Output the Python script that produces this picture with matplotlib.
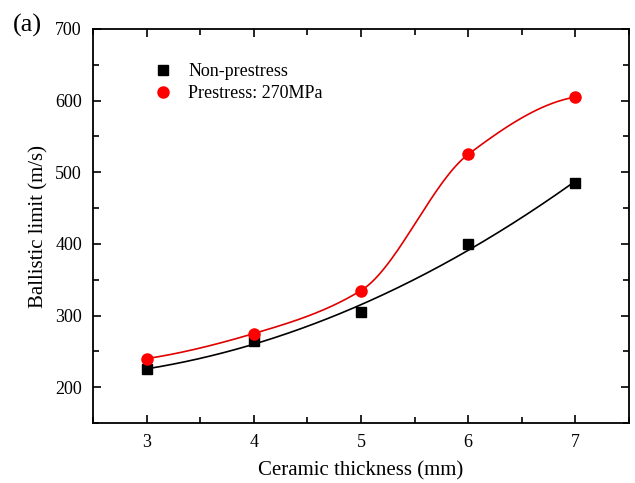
import numpy as np
import matplotlib
matplotlib.use("Agg")
import matplotlib.pyplot as plt
from matplotlib.ticker import MultipleLocator

thickness = [3, 4, 5, 6, 7]
non_prestress = [225, 265, 305, 400, 485]
prestress = [240, 275, 335, 525, 605]

plt.rcParams['font.family'] = ['Liberation Serif', 'DejaVu Serif']


def pchip(x, y, xs):
    x = np.asarray(x, float); y = np.asarray(y, float)
    h = np.diff(x); d = np.diff(y) / h
    n = len(x)
    m = np.zeros(n)
    for i in range(1, n - 1):
        if d[i - 1] * d[i] > 0:
            w1 = 2 * h[i] + h[i - 1]; w2 = h[i] + 2 * h[i - 1]
            m[i] = (w1 + w2) / (w1 / d[i - 1] + w2 / d[i])
    m[0] = ((2 * h[0] + h[1]) * d[0] - h[0] * d[1]) / (h[0] + h[1])
    if m[0] * d[0] <= 0:
        m[0] = 0
    m[-1] = ((2 * h[-1] + h[-2]) * d[-1] - h[-1] * d[-2]) / (h[-1] + h[-2])
    if m[-1] * d[-1] <= 0:
        m[-1] = 0
    out = np.empty_like(xs)
    for k, xv in enumerate(xs):
        i = min(max(np.searchsorted(x, xv) - 1, 0), n - 2)
        t = (xv - x[i]) / h[i]
        h00 = 2 * t ** 3 - 3 * t ** 2 + 1
        h10 = t ** 3 - 2 * t ** 2 + t
        h01 = -2 * t ** 3 + 3 * t ** 2
        h11 = t ** 3 - t ** 2
        out[k] = h00 * y[i] + h10 * h[i] * m[i] + h01 * y[i + 1] + h11 * h[i] * m[i + 1]
    return out


fig = plt.figure(figsize=(6.35, 4.83), dpi=100)
ax = fig.add_axes([0.1465, 0.124, 0.844, 0.816])

xs = np.linspace(3, 7, 300)
coef = np.polyfit(thickness, non_prestress, 2)
ax.plot(xs, np.polyval(coef, xs), color='black', lw=1.2, zorder=2)
ax.plot(xs, pchip(thickness, prestress, xs), color='#e00000', lw=1.2, zorder=2)

ax.plot(thickness, non_prestress, ls='none', marker='s', ms=7, color='black',
        label='Non-prestress', zorder=3)
ax.plot(thickness, prestress, ls='none', marker='o', ms=8, color='#ff0000',
        label='Prestress: 270MPa', zorder=3)

ax.set_xlim(2.5, 7.5)
ax.set_ylim(150, 700)
ax.xaxis.set_major_locator(MultipleLocator(1))
ax.xaxis.set_minor_locator(MultipleLocator(0.5))
ax.yaxis.set_major_locator(MultipleLocator(100))
ax.yaxis.set_minor_locator(MultipleLocator(50))
ax.tick_params(which='both', direction='in', top=True, right=True, width=1.2)
ax.tick_params(which='major', length=6, labelsize=13, pad=8)
ax.tick_params(which='minor', length=4)
ax.tick_params(axis='x', labeltop=False)
ax.tick_params(axis='y', labelright=False)
for s in ax.spines.values():
    s.set_linewidth(1.3)

ax.set_xlabel('Ceramic thickness (mm)', fontsize=15, labelpad=7)
ax.set_ylabel('Ballistic limit (m/s)', fontsize=15, labelpad=5)

ax.legend(loc='upper left', bbox_to_anchor=(0.08, 0.955), frameon=False, fontsize=13,
          handletextpad=0.8, labelspacing=0.3, handlelength=1.2)

fig.text(0.02, 0.947, '(a)', fontsize=19, ha='left', va='center')

fig.savefig('out.png', dpi=100)
